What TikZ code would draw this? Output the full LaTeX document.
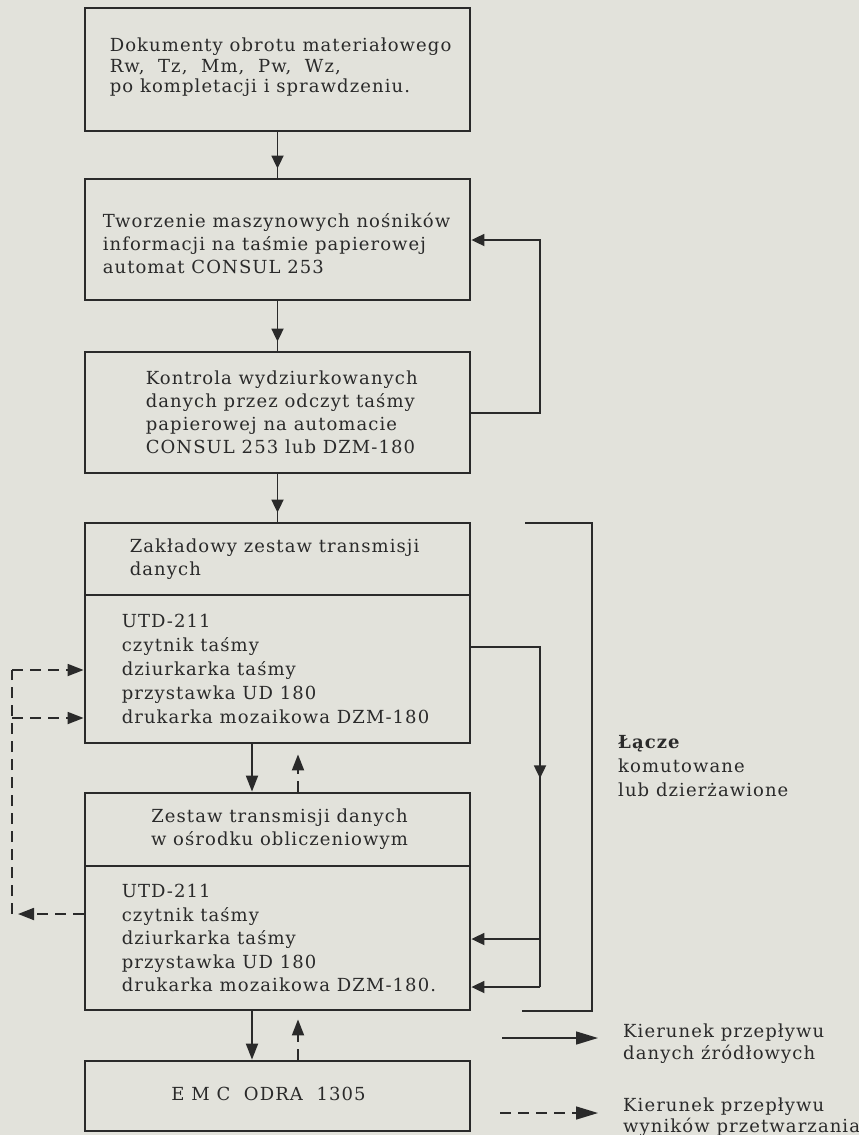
\documentclass[tikz,border=0pt]{standalone}
\usepackage{fontspec}
\setmainfont{DejaVu Serif}[LetterSpace=6]
\usetikzlibrary{arrows.meta,decorations.markings}

\definecolor{papier}{RGB}{226,226,219}
\definecolor{tusz}{RGB}{42,42,42}

\tikzset{
  blok/.style={draw=tusz,line width=2.8pt,minimum width=385pt,inner sep=0pt},
  napis/.style={text=tusz,align=left,inner sep=0pt},
  linia/.style={draw=tusz,line width=1.8pt},
  przer/.style={dash pattern=on 11pt off 7pt},
  grot/.tip={Triangle[length=16pt,width=12pt]},
  grotmaly/.tip={Triangle[length=13pt,width=12pt]},
  pilsrodek/.style={postaction={decorate},
    decoration={markings,mark=at position #1 with {\arrow{grotmaly}}}},
}

\begin{document}
\begin{tikzpicture}[x=1pt,y=-1pt,font=\fontsize{18}{23}\selectfont]

\fill[papier] (0,0) rectangle (859,1135);
\useasboundingbox (0,0) rectangle (859,1135);

% bloki
\node[blok,minimum height=123pt] (dok) at (277.5,69.5) {};
\node[napis,anchor=west,font=\fontsize{18}{20.5}\selectfont] (doktxt) at ([xshift=26pt,yshift=2pt]dok.west)
  {Dokumenty obrotu materiałowego\\Rw,~~Tz,~~Mm,~~Pw,~~Wz,\\po kompletacji i sprawdzeniu.};

\node[blok,minimum height=121pt] (tworz) at (277.5,239.5) {};
\node[napis,anchor=west] (tworztxt) at ([xshift=19pt,yshift=-4pt]tworz.west)
  {Tworzenie maszynowych nośników\\informacji na taśmie papierowej\\automat CONSUL 253};

\node[blok,minimum height=121pt] (kontr) at (277.5,412.5) {};
\node[napis,anchor=west] (kontrtxt) at ([xshift=62pt]kontr.west)
  {Kontrola wydziurkowanych\\danych przez odczyt taśmy\\papierowej na automacie\\CONSUL 253 lub DZM-180};

\node[blok,minimum height=72pt] (zakl) at (277.5,559) {};
\node[napis,anchor=west] (zakltxt) at ([xshift=46pt]zakl.west)
  {Zakładowy zestaw transmisji\\danych};
\node[blok,minimum height=148pt] (zaklur) at (277.5,669) {};
\node[napis,anchor=west,font=\fontsize{18}{24}\selectfont] (zaklurtxt) at ([xshift=38pt]zaklur.west)
  {UTD-211\\czytnik taśmy\\dziurkarka taśmy\\przystawka UD 180\\drukarka mozaikowa DZM-180};

\node[blok,minimum height=73pt] (zest) at (277.5,829.5) {};
\node[napis,align=center] (zesttxt) at ([xshift=2pt]zest.center)
  {Zestaw transmisji danych\\w ośrodku obliczeniowym};
\node[blok,minimum height=144pt] (zestur) at (277.5,938) {};
\node[napis,anchor=west,font=\fontsize{18}{23.5}\selectfont] (zesturtxt) at ([xshift=38pt]zestur.west)
  {UTD-211\\czytnik taśmy\\dziurkarka taśmy\\przystawka UD 180\\drukarka mozaikowa DZM-180.};

\node[blok,minimum height=70pt] (odra) at (277.5,1096) {};
\node[napis] (odratxt) at ([xshift=-9pt,yshift=2pt]odra.center) {E~M~C~~ODRA~~1305};

% przeplyw w gore schematu
\draw[linia,pilsrodek=-9pt] (dok.south) -- (tworz.north);
\draw[linia,pilsrodek=-9pt] (tworz.south) -- (kontr.north);
\draw[linia,pilsrodek=-9pt] (kontr.south) -- (zakl.north);

\coordinate (petlag) at (540,240);
\coordinate (petlad) at (540,413);
\draw[linia,-{grotmaly}] (kontr.east |- petlad) -- (petlad) -- (petlag) -- (petlag -| tworz.east);

% miedzy zestawami
\draw[linia,-{grot}] ([xshift=-25.5pt]zaklur.south) -- ([xshift=-25.5pt]zest.north);
\draw[linia,przer,-{grot},shorten >=10pt] ([xshift=20.5pt]zest.north) -- ([xshift=20.5pt]zaklur.south);
\draw[linia,-{grot}] ([xshift=-25.5pt]zestur.south) -- ([xshift=-25.5pt]odra.north);
\draw[linia,przer,-{grot},shorten >=8pt] ([xshift=20.5pt]odra.north) -- ([xshift=20.5pt]zestur.south);

% lacze
\coordinate (prawyg) at (540,647);
\coordinate (prawys) at (540,939);
\coordinate (prawyd) at (540,987);
\draw[linia,pilsrodek=200pt] (zaklur.east |- prawyg) -- (prawyg) -- (prawyd);
\draw[linia,-{grotmaly}] (prawys) -- (prawys -| zestur.east);
\draw[linia,-{grotmaly}] (prawyd) -- (prawyd -| zestur.east);

\coordinate (laczeg) at (592,523);
\coordinate (lacze d) at (592,1011);
\draw[linia] (525,523) -- (laczeg) -- (lacze d) -- (522,1011);
\node[napis,anchor=west,font=\fontsize{18}{24}\selectfont] (lacze) at (618,766)
  {\textbf{Łącze}\\komutowane\\lub dzierżawione};

% wyniki
\coordinate (lewyg) at (12,670);
\coordinate (lewys) at (12,718);
\coordinate (lewyd) at (12,914);
\draw[linia,przer,-{grot}] ([yshift=24pt]zestur.west) -- ([xshift=6pt]lewyd);
\draw[linia,przer] (lewyd) -- (lewyg);
\draw[linia,przer,-{grot}] (lewyg) -- (lewyg -| zaklur.west);
\draw[linia,przer,-{grot}] (lewys) -- (lewys -| zaklur.west);

% legenda
\coordinate (leg1) at (502,1038);
\coordinate (leg2) at (500,1113);
\draw[linia,line width=1.5pt,-{Triangle[length=22pt,width=13pt]}] (leg1) -- ++(96,0);
\draw[linia,line width=1.5pt,przer,-{Triangle[length=22pt,width=13pt]}] (leg2) -- ++(98,0);
\node[napis,anchor=west,font=\fontsize{18}{22}\selectfont] (leg1txt) at (623,1044)
  {Kierunek przepływu\\danych źródłowych};
\node[napis,anchor=west,font=\fontsize{18}{21}\selectfont] (leg2txt) at (623,1117.5)
  {Kierunek przepływu\\wyników przetwarzania};

\end{tikzpicture}
\end{document}
